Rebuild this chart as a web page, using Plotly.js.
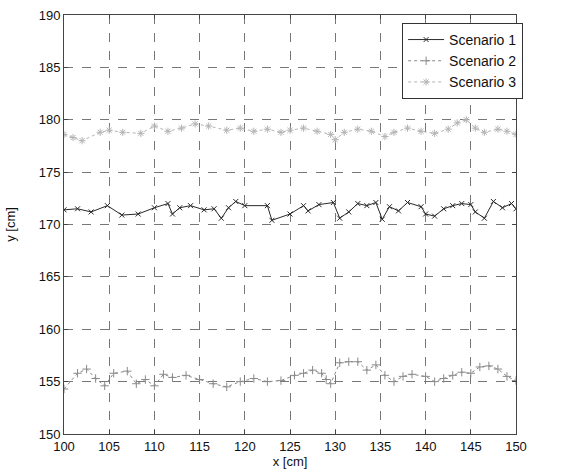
<!DOCTYPE html>
<html>
<head>
<meta charset="utf-8">
<script src="https://cdn.plot.ly/plotly-3.0.1.min.js"></script>
<style>html,body{margin:0;padding:0;background:#fff;}#chart{width:561px;height:475px;}</style>
</head>
<body>
<div id="chart"></div>
<script>
// Scenario 1 (around y = 171-172)
const x1 = [100.0,101.5,103.0,104.8,106.4,108.2,110.0,111.5,112.0,112.8,114.0,115.5,116.6,117.4,118.2,119.0,120.0,122.5,123.0,125.0,126.5,127.0,128.2,129.8,130.5,131.5,132.5,133.5,134.5,135.2,136.0,137.0,138.0,139.5,140.0,141.0,142.0,143.0,144.0,145.0,145.5,146.5,147.5,148.5,149.5,150.0];
const y1 = [171.4,171.5,171.2,171.8,170.9,171.0,171.6,172.0,171.0,171.6,171.8,171.4,171.5,170.6,171.6,172.2,171.8,171.8,170.4,171.0,171.8,171.3,171.9,172.1,170.6,171.2,172.0,171.8,172.1,170.5,171.7,171.3,172.1,171.7,171.0,170.8,171.5,171.8,172.0,171.9,171.2,170.6,172.2,171.6,172.0,171.5];
// Scenario 2 (around y = 155-157)
const x2 = [100.0,101.5,102.5,103.5,104.5,105.5,107.0,108.0,109.0,110.0,111.0,112.0,113.5,115.0,116.5,118.0,119.5,121.0,122.5,124.0,125.5,126.5,127.5,128.5,129.0,129.5,130.5,131.5,132.5,133.5,134.5,135.5,136.5,137.5,138.5,140.0,141.0,142.0,143.0,144.0,145.0,146.0,147.0,148.0,149.0,150.0];
const y2 = [154.3,155.8,156.2,155.3,154.6,155.8,156.0,154.8,155.2,154.6,155.7,155.4,155.6,155.2,154.8,154.5,155.0,155.3,155.0,155.1,155.6,155.8,156.1,155.8,155.2,154.8,156.8,156.9,156.9,156.1,156.6,155.6,155.0,155.5,155.7,155.5,155.0,155.3,155.6,155.9,155.8,156.4,156.5,156.2,155.5,155.1];
// Scenario 3 (around y = 178-180)
const x3 = [100.0,101.0,102.0,104.0,105.0,106.5,108.5,110.0,111.5,113.0,114.5,116.0,118.0,119.5,121.0,122.5,124.0,125.0,126.5,128.0,129.5,130.0,131.0,132.5,134.0,135.5,136.5,138.0,139.5,141.0,142.5,143.5,144.5,145.5,146.5,148.0,149.0,150.0];
const y3 = [178.6,178.3,178.0,178.8,179.0,178.8,178.7,179.4,178.9,179.2,179.6,179.4,179.0,179.2,178.9,179.1,178.8,179.0,179.2,178.9,178.6,178.1,178.8,179.1,178.9,178.4,178.8,179.2,178.9,178.7,179.1,179.7,180.0,179.2,178.8,179.1,178.9,178.6];

const xTicks = [100,105,110,115,120,125,130,135,140,145,150];
const yTicks = [150,155,160,165,170,175,180,185,190];

const traces = [
  {x:x1, y:y1, name:'Scenario 1', mode:'lines+markers', type:'scatter',
   line:{color:'#2a2a2a', width:1, dash:'solid'},
   marker:{symbol:'x-thin-open', size:5, color:'#2a2a2a', line:{color:'#2a2a2a', width:1}}},
  {x:x2, y:y2, name:'Scenario 2', mode:'lines+markers', type:'scatter',
   line:{color:'#8a8a8a', width:1, dash:'dot'},
   marker:{symbol:'cross-thin-open', size:6, color:'#8a8a8a', line:{color:'#8a8a8a', width:1}}},
  {x:x3, y:y3, name:'Scenario 3', mode:'lines+markers', type:'scatter',
   line:{color:'#b4b4b4', width:1, dash:'dot'},
   marker:{symbol:'asterisk-open', size:6, color:'#b4b4b4', line:{color:'#b4b4b4', width:1}}}
];

const axisCommon = {
  showline:true, mirror:'ticks', linecolor:'#444', linewidth:1,
  ticks:'inside', ticklen:4, tickcolor:'#444',
  showgrid:true, gridcolor:'#777', griddash:'dash', gridwidth:1,
  zeroline:false, tickfont:{family:'Liberation Sans, Arial, sans-serif', size:13, color:'#111'}
};

const layout = {
  width:561, height:475,
  margin:{l:64, r:45, t:15, b:41},
  paper_bgcolor:'#fff', plot_bgcolor:'#fff',
  font:{family:'Liberation Sans, Arial, sans-serif', size:13, color:'#111'},
  xaxis:Object.assign({}, axisCommon, {range:[100,150], tickvals:xTicks, ticktext:xTicks.map(String),
    title:{text:'x [cm]', standoff:4, font:{size:13}}}),
  yaxis:Object.assign({}, axisCommon, {range:[150,190], tickvals:yTicks, ticktext:yTicks.map(String),
    title:{text:'y [cm]', standoff:20, font:{size:13}}}),
  showlegend:true,
  legend:{x:0.748, y:0.981, xanchor:'left', yanchor:'top', bgcolor:'#fff',
    bordercolor:'#333', borderwidth:1, font:{size:14}, itemwidth:36},
};

Plotly.newPlot('chart', traces, layout, {staticPlot:true, displayModeBar:false});
</script>
</body>
</html>
